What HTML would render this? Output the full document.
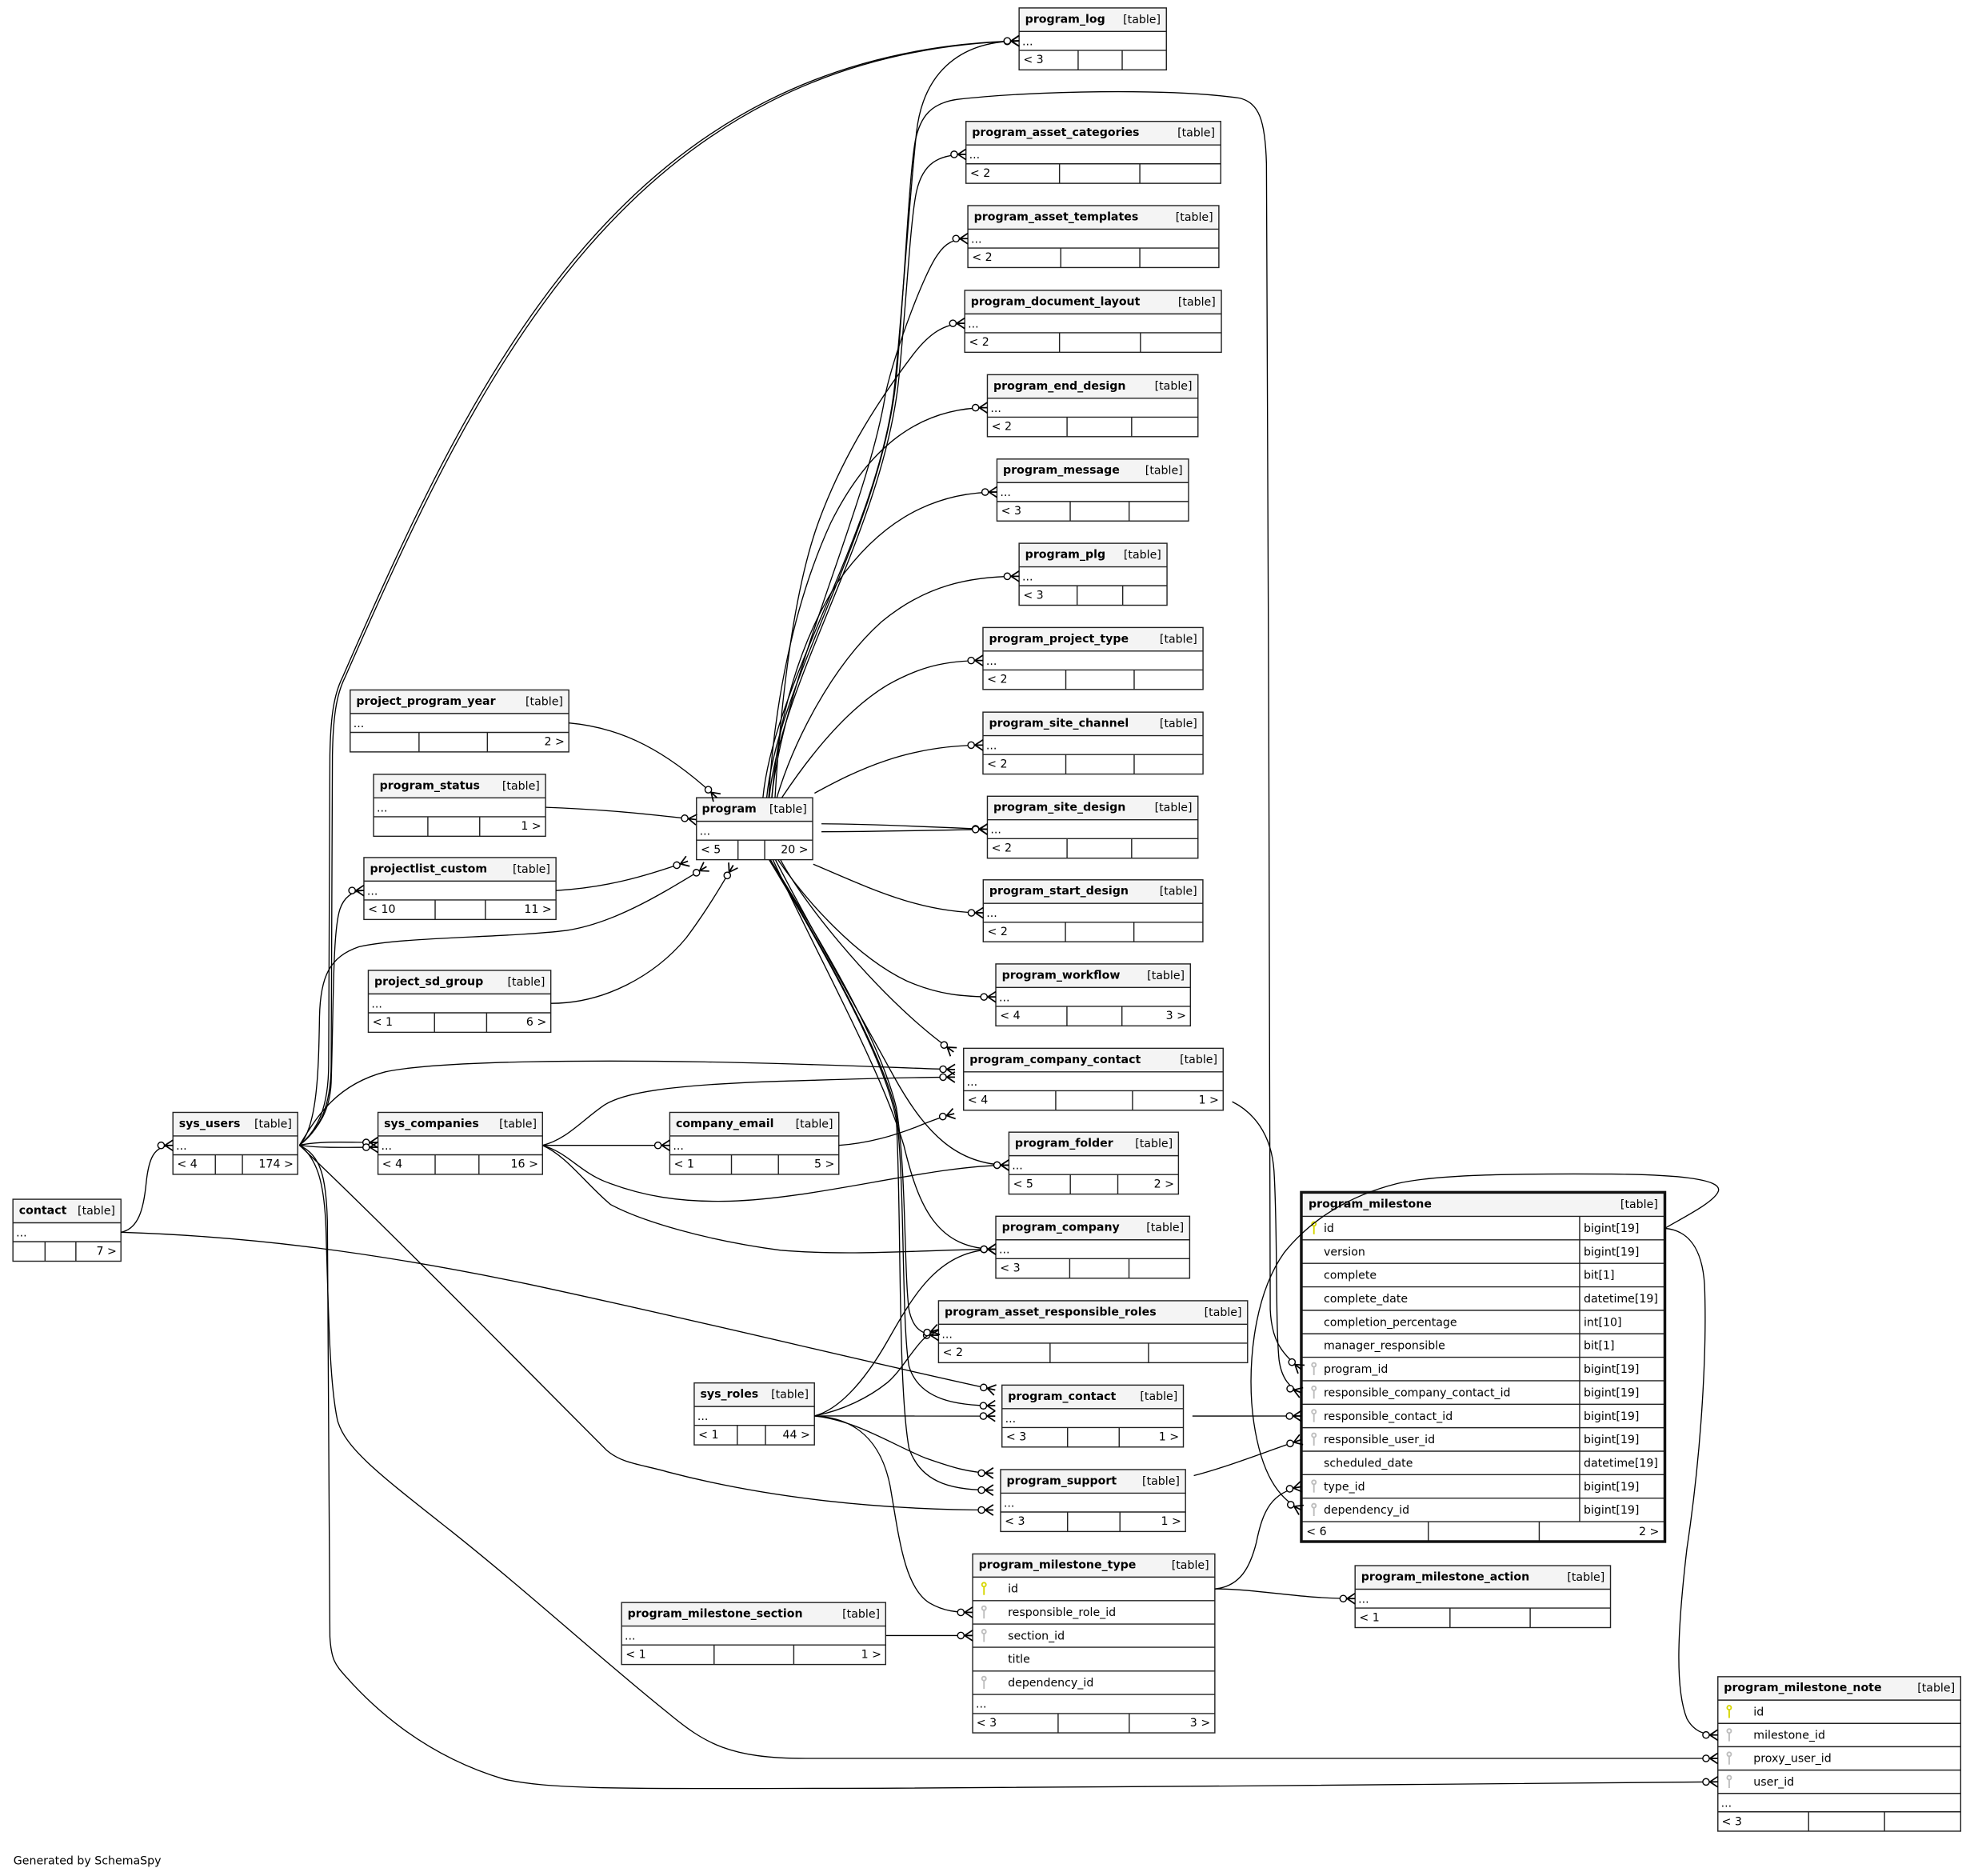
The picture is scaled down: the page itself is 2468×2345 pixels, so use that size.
<!DOCTYPE html>
<html><head><meta charset="utf-8"><title>ERD</title>
<style>html,body{margin:0;padding:0;background:#fff}svg{display:block}</style></head>
<body>
<svg xmlns="http://www.w3.org/2000/svg" width="2468" height="2345" viewBox="0 0 1568 1490" font-family="DejaVu Sans, Liberation Sans, sans-serif" font-size="9">
<style>
.s{stroke:#222;stroke-width:.9;fill:none}
.o{fill:none;stroke:#222;stroke-width:.9}
.n{font-weight:bold}
.r{text-anchor:end}
.e{fill:none;stroke:#000;stroke-width:.85;marker-end:url(#m)}
.pk{fill:none;stroke:#d6d600;stroke-width:1.2}
.fk{fill:none;stroke:#bdbdbd;stroke-width:1.2}
</style>
<defs>
<marker id="m" markerUnits="userSpaceOnUse" viewBox="-14 -6 16 12" markerWidth="16" markerHeight="12" refX="0" refY="0" orient="auto" overflow="visible">
<path d="M-6.4,0L0,-4.2M-6.4,0L0,0M-6.4,0L0,4.2" fill="none" stroke="#000" stroke-width="1.1"/>
<circle cx="-9.4" cy="0" r="2.6" fill="#fff" stroke="#000" stroke-width=".9"/>
</marker>
</defs>
<rect width="1568" height="1490" fill="#fff"/>

<!-- simple tables -->
<g transform="translate(809.5,6.3)"><rect width="117" height="49.2" fill="#fff"/><rect width="117" height="18.7" fill="#f4f4f4"/><path class="s" d="M0,18.7H117M0,33.7H117M46.9,33.7V49.2M81.9,33.7V49.2"/><rect class="o" width="117" height="49.2"/><text class="n" x="4.8" y="11.7">program_log</text><text class="r" x="112.4" y="12">[table]</text><text x="2.5" y="29.5">...</text><text x="3.3" y="44">&lt; 3</text></g>

<g transform="translate(767.3,96.4)"><rect width="202.4" height="49.2" fill="#fff"/><rect width="202.4" height="18.7" fill="#f4f4f4"/><path class="s" d="M0,18.7H202.4M0,33.7H202.4M74.3,33.7V49.2M138.1,33.7V49.2"/><rect class="o" width="202.4" height="49.2"/><text class="n" x="4.8" y="11.7">program_asset_categories</text><text class="r" x="197.8" y="12">[table]</text><text x="2.5" y="29.5">...</text><text x="3.3" y="44">&lt; 2</text></g>

<g transform="translate(768.8,163.3)"><rect width="199.4" height="49.2" fill="#fff"/><rect width="199.4" height="18.7" fill="#f4f4f4"/><path class="s" d="M0,18.7H199.4M0,33.7H199.4M73.8,33.7V49.2M136.6,33.7V49.2"/><rect class="o" width="199.4" height="49.2"/><text class="n" x="4.8" y="11.7">program_asset_templates</text><text class="r" x="194.8" y="12">[table]</text><text x="2.5" y="29.5">...</text><text x="3.3" y="44">&lt; 2</text></g>

<g transform="translate(766.3,230.6)"><rect width="203.9" height="49.2" fill="#fff"/><rect width="203.9" height="18.7" fill="#f4f4f4"/><path class="s" d="M0,18.7H203.9M0,33.7H203.9M75.3,33.7V49.2M139.6,33.7V49.2"/><rect class="o" width="203.9" height="49.2"/><text class="n" x="4.8" y="11.7">program_document_layout</text><text class="r" x="199.3" y="12">[table]</text><text x="2.5" y="29.5">...</text><text x="3.3" y="44">&lt; 2</text></g>

<g transform="translate(784.3,297.6)"><rect width="167.3" height="49.2" fill="#fff"/><rect width="167.3" height="18.7" fill="#f4f4f4"/><path class="s" d="M0,18.7H167.3M0,33.7H167.3M63.3,33.7V49.2M114.6,33.7V49.2"/><rect class="o" width="167.3" height="49.2"/><text class="n" x="4.8" y="11.7">program_end_design</text><text class="r" x="162.7" y="12">[table]</text><text x="2.5" y="29.5">...</text><text x="3.3" y="44">&lt; 2</text></g>

<g transform="translate(791.9,364.6)"><rect width="152.2" height="49.2" fill="#fff"/><rect width="152.2" height="18.7" fill="#f4f4f4"/><path class="s" d="M0,18.7H152.2M0,33.7H152.2M58.2,33.7V49.2M105,33.7V49.2"/><rect class="o" width="152.2" height="49.2"/><text class="n" x="4.8" y="11.7">program_message</text><text class="r" x="147.6" y="12">[table]</text><text x="2.5" y="29.5">...</text><text x="3.3" y="44">&lt; 3</text></g>

<g transform="translate(809.5,431.5)"><rect width="117.5" height="49.2" fill="#fff"/><rect width="117.5" height="18.7" fill="#f4f4f4"/><path class="s" d="M0,18.7H117.5M0,33.7H117.5M46.1,33.7V49.2M82.3,33.7V49.2"/><rect class="o" width="117.5" height="49.2"/><text class="n" x="4.8" y="11.7">program_plg</text><text class="r" x="112.9" y="12">[table]</text><text x="2.5" y="29.5">...</text><text x="3.3" y="44">&lt; 3</text></g>

<g transform="translate(780.8,498.4)"><rect width="174.8" height="49.2" fill="#fff"/><rect width="174.8" height="18.7" fill="#f4f4f4"/><path class="s" d="M0,18.7H174.8M0,33.7H174.8M65.8,33.7V49.2M120.1,33.7V49.2"/><rect class="o" width="174.8" height="49.2"/><text class="n" x="4.8" y="11.7">program_project_type</text><text class="r" x="170.2" y="12">[table]</text><text x="2.5" y="29.5">...</text><text x="3.3" y="44">&lt; 2</text></g>

<g transform="translate(780.8,565.6)"><rect width="174.8" height="49.2" fill="#fff"/><rect width="174.8" height="18.7" fill="#f4f4f4"/><path class="s" d="M0,18.7H174.8M0,33.7H174.8M65.8,33.7V49.2M120.1,33.7V49.2"/><rect class="o" width="174.8" height="49.2"/><text class="n" x="4.8" y="11.7">program_site_channel</text><text class="r" x="170.2" y="12">[table]</text><text x="2.5" y="29.5">...</text><text x="3.3" y="44">&lt; 2</text></g>

<g transform="translate(784.3,632.4)"><rect width="167.3" height="49.2" fill="#fff"/><rect width="167.3" height="18.7" fill="#f4f4f4"/><path class="s" d="M0,18.7H167.3M0,33.7H167.3M63.3,33.7V49.2M114.6,33.7V49.2"/><rect class="o" width="167.3" height="49.2"/><text class="n" x="4.8" y="11.7">program_site_design</text><text class="r" x="162.7" y="12">[table]</text><text x="2.5" y="29.5">...</text><text x="3.3" y="44">&lt; 2</text></g>

<g transform="translate(781,698.8)"><rect width="174.5" height="49.2" fill="#fff"/><rect width="174.5" height="18.7" fill="#f4f4f4"/><path class="s" d="M0,18.7H174.5M0,33.7H174.5M65.3,33.7V49.2M119.7,33.7V49.2"/><rect class="o" width="174.5" height="49.2"/><text class="n" x="4.8" y="11.7">program_start_design</text><text class="r" x="169.9" y="12">[table]</text><text x="2.5" y="29.5">...</text><text x="3.3" y="44">&lt; 2</text></g>

<g transform="translate(791,765.6)"><rect width="154.6" height="49.2" fill="#fff"/><rect width="154.6" height="18.7" fill="#f4f4f4"/><path class="s" d="M0,18.7H154.6M0,33.7H154.6M56.5,33.7V49.2M100.2,33.7V49.2"/><rect class="o" width="154.6" height="49.2"/><text class="n" x="4.8" y="11.7">program_workflow</text><text class="r" x="150" y="12">[table]</text><text x="2.5" y="29.5">...</text><text x="3.3" y="44">&lt; 4</text><text class="r" x="151.2" y="44">3 &gt;</text></g>

<g transform="translate(765.4,832.6)"><rect width="206.2" height="49.2" fill="#fff"/><rect width="206.2" height="18.7" fill="#f4f4f4"/><path class="s" d="M0,18.7H206.2M0,33.7H206.2M73.2,33.7V49.2M134.2,33.7V49.2"/><rect class="o" width="206.2" height="49.2"/><text class="n" x="4.8" y="11.7">program_company_contact</text><text class="r" x="201.6" y="12">[table]</text><text x="2.5" y="29.5">...</text><text x="3.3" y="44">&lt; 4</text><text class="r" x="202.8" y="44">1 &gt;</text></g>

<g transform="translate(801.4,899.2)"><rect width="134.7" height="49.2" fill="#fff"/><rect width="134.7" height="18.7" fill="#f4f4f4"/><path class="s" d="M0,18.7H134.7M0,33.7H134.7M48.8,33.7V49.2M86.5,33.7V49.2"/><rect class="o" width="134.7" height="49.2"/><text class="n" x="4.8" y="11.7">program_folder</text><text class="r" x="130.1" y="12">[table]</text><text x="2.5" y="29.5">...</text><text x="3.3" y="44">&lt; 5</text><text class="r" x="131.3" y="44">2 &gt;</text></g>

<g transform="translate(791,966)"><rect width="154" height="49.2" fill="#fff"/><rect width="154" height="18.7" fill="#f4f4f4"/><path class="s" d="M0,18.7H154M0,33.7H154M58.7,33.7V49.2M105.8,33.7V49.2"/><rect class="o" width="154" height="49.2"/><text class="n" x="4.8" y="11.7">program_company</text><text class="r" x="149.4" y="12">[table]</text><text x="2.5" y="29.5">...</text><text x="3.3" y="44">&lt; 3</text></g>

<g transform="translate(745.5,1033.1)"><rect width="245.5" height="49.2" fill="#fff"/><rect width="245.5" height="18.7" fill="#f4f4f4"/><path class="s" d="M0,18.7H245.5M0,33.7H245.5M88.6,33.7V49.2M166.8,33.7V49.2"/><rect class="o" width="245.5" height="49.2"/><text class="n" x="4.8" y="11.7">program_asset_responsible_roles</text><text class="r" x="240.9" y="12">[table]</text><text x="2.5" y="29.5">...</text><text x="3.3" y="44">&lt; 2</text></g>

<g transform="translate(795.9,1100.1)"><rect width="144.1" height="49.2" fill="#fff"/><rect width="144.1" height="18.7" fill="#f4f4f4"/><path class="s" d="M0,18.7H144.1M0,33.7H144.1M52.1,33.7V49.2M93.1,33.7V49.2"/><rect class="o" width="144.1" height="49.2"/><text class="n" x="4.8" y="11.7">program_contact</text><text class="r" x="139.5" y="12">[table]</text><text x="2.5" y="29.5">...</text><text x="3.3" y="44">&lt; 3</text><text class="r" x="140.7" y="44">1 &gt;</text></g>

<g transform="translate(794.8,1167.2)"><rect width="146.9" height="49.2" fill="#fff"/><rect width="146.9" height="18.7" fill="#f4f4f4"/><path class="s" d="M0,18.7H146.9M0,33.7H146.9M53.2,33.7V49.2M94.8,33.7V49.2"/><rect class="o" width="146.9" height="49.2"/><text class="n" x="4.8" y="11.7">program_support</text><text class="r" x="142.3" y="12">[table]</text><text x="2.5" y="29.5">...</text><text x="3.3" y="44">&lt; 3</text><text class="r" x="143.5" y="44">1 &gt;</text></g>

<g transform="translate(1076.4,1243.5)"><rect width="202.9" height="49.2" fill="#fff"/><rect width="202.9" height="18.7" fill="#f4f4f4"/><path class="s" d="M0,18.7H202.9M0,33.7H202.9M75.4,33.7V49.2M139.1,33.7V49.2"/><rect class="o" width="202.9" height="49.2"/><text class="n" x="4.8" y="11.7">program_milestone_action</text><text class="r" x="198.3" y="12">[table]</text><text x="2.5" y="29.5">...</text><text x="3.3" y="44">&lt; 1</text></g>

<g transform="translate(493.7,1272.8)"><rect width="209.8" height="49.2" fill="#fff"/><rect width="209.8" height="18.7" fill="#f4f4f4"/><path class="s" d="M0,18.7H209.8M0,33.7H209.8M73.5,33.7V49.2M136.8,33.7V49.2"/><rect class="o" width="209.8" height="49.2"/><text class="n" x="4.8" y="11.7">program_milestone_section</text><text class="r" x="205.2" y="12">[table]</text><text x="2.5" y="29.5">...</text><text x="3.3" y="44">&lt; 1</text><text class="r" x="206.4" y="44">1 &gt;</text></g>

<g transform="translate(551.4,1098.4)"><rect width="95.5" height="49.2" fill="#fff"/><rect width="95.5" height="18.7" fill="#f4f4f4"/><path class="s" d="M0,18.7H95.5M0,33.7H95.5M34.2,33.7V49.2M56.6,33.7V49.2"/><rect class="o" width="95.5" height="49.2"/><text class="n" x="4.8" y="11.7">sys_roles</text><text class="r" x="90.9" y="12">[table]</text><text x="2.5" y="29.5">...</text><text x="3.3" y="44">&lt; 1</text><text class="r" x="92.1" y="44">44 &gt;</text></g>

<g transform="translate(532,883.5)"><rect width="134.3" height="49.2" fill="#fff"/><rect width="134.3" height="18.7" fill="#f4f4f4"/><path class="s" d="M0,18.7H134.3M0,33.7H134.3M49,33.7V49.2M86.3,33.7V49.2"/><rect class="o" width="134.3" height="49.2"/><text class="n" x="4.8" y="11.7">company_email</text><text class="r" x="129.7" y="12">[table]</text><text x="2.5" y="29.5">...</text><text x="3.3" y="44">&lt; 1</text><text class="r" x="130.9" y="44">5 &gt;</text></g>

<g transform="translate(300.2,883.5)"><rect width="130.7" height="49.2" fill="#fff"/><rect width="130.7" height="18.7" fill="#f4f4f4"/><path class="s" d="M0,18.7H130.7M0,33.7H130.7M45.4,33.7V49.2M80.2,33.7V49.2"/><rect class="o" width="130.7" height="49.2"/><text class="n" x="4.8" y="11.7">sys_companies</text><text class="r" x="126.1" y="12">[table]</text><text x="2.5" y="29.5">...</text><text x="3.3" y="44">&lt; 4</text><text class="r" x="127.3" y="44">16 &gt;</text></g>

<g transform="translate(137.3,883.5)"><rect width="99.1" height="49.2" fill="#fff"/><rect width="99.1" height="18.7" fill="#f4f4f4"/><path class="s" d="M0,18.7H99.1M0,33.7H99.1M33.7,33.7V49.2M55.2,33.7V49.2"/><rect class="o" width="99.1" height="49.2"/><text class="n" x="4.8" y="11.7">sys_users</text><text class="r" x="94.5" y="12">[table]</text><text x="2.5" y="29.5">...</text><text x="3.3" y="44">&lt; 4</text><text class="r" x="95.7" y="44">174 &gt;</text></g>

<g transform="translate(10.2,952.5)"><rect width="85.8" height="49.2" fill="#fff"/><rect width="85.8" height="18.7" fill="#f4f4f4"/><path class="s" d="M0,18.7H85.8M0,33.7H85.8M25.5,33.7V49.2M50,33.7V49.2"/><rect class="o" width="85.8" height="49.2"/><text class="n" x="4.8" y="11.7">contact</text><text class="r" x="81.2" y="12">[table]</text><text x="2.5" y="29.5">...</text><text class="r" x="82.4" y="44">7 &gt;</text></g>

<g transform="translate(278.1,548)"><rect width="173.7" height="49.2" fill="#fff"/><rect width="173.7" height="18.7" fill="#f4f4f4"/><path class="s" d="M0,18.7H173.7M0,33.7H173.7M54.7,33.7V49.2M109,33.7V49.2"/><rect class="o" width="173.7" height="49.2"/><text class="n" x="4.8" y="11.7">project_program_year</text><text class="r" x="169.1" y="12">[table]</text><text x="2.5" y="29.5">...</text><text class="r" x="170.3" y="44">2 &gt;</text></g>

<g transform="translate(296.7,615)"><rect width="136.6" height="49.2" fill="#fff"/><rect width="136.6" height="18.7" fill="#f4f4f4"/><path class="s" d="M0,18.7H136.6M0,33.7H136.6M43.1,33.7V49.2M84.3,33.7V49.2"/><rect class="o" width="136.6" height="49.2"/><text class="n" x="4.8" y="11.7">program_status</text><text class="r" x="132" y="12">[table]</text><text x="2.5" y="29.5">...</text><text class="r" x="133.2" y="44">1 &gt;</text></g>

<g transform="translate(289,681.1)"><rect width="152.6" height="49.2" fill="#fff"/><rect width="152.6" height="18.7" fill="#f4f4f4"/><path class="s" d="M0,18.7H152.6M0,33.7H152.6M56.6,33.7V49.2M96.5,33.7V49.2"/><rect class="o" width="152.6" height="49.2"/><text class="n" x="4.8" y="11.7">projectlist_custom</text><text class="r" x="148" y="12">[table]</text><text x="2.5" y="29.5">...</text><text x="3.3" y="44">&lt; 10</text><text class="r" x="149.2" y="44">11 &gt;</text></g>

<g transform="translate(292.5,770.7)"><rect width="145" height="49.2" fill="#fff"/><rect width="145" height="18.7" fill="#f4f4f4"/><path class="s" d="M0,18.7H145M0,33.7H145M52.6,33.7V49.2M94,33.7V49.2"/><rect class="o" width="145" height="49.2"/><text class="n" x="4.8" y="11.7">project_sd_group</text><text class="r" x="140.4" y="12">[table]</text><text x="2.5" y="29.5">...</text><text x="3.3" y="44">&lt; 1</text><text class="r" x="141.6" y="44">6 &gt;</text></g>

<g transform="translate(553.2,633.6)"><rect width="92.3" height="49.2" fill="#fff"/><rect width="92.3" height="18.7" fill="#f4f4f4"/><path class="s" d="M0,18.7H92.3M0,33.7H92.3M33,33.7V49.2M54.2,33.7V49.2"/><rect class="o" width="92.3" height="49.2"/><text class="n" x="4.3" y="11.7">program</text><text class="r" x="87.7" y="12">[table]</text><text x="2.5" y="29.5">...</text><text x="3.3" y="44">&lt; 5</text><text class="r" x="88.9" y="44">20 &gt;</text></g>

<!-- program_milestone_type -->
<g transform="translate(772.6,1234.2)"><rect width="192.4" height="142.1" fill="#fff"/><rect width="192.4" height="18.4" fill="#f4f4f4"/>
<path class="s" d="M0,18.4H192.4M0,37.1H192.4M0,55.7H192.4M0,74.1H192.4M0,93H192.4M0,111.6H192.4M0,126.8H192.4M67.9,126.8V142.1M124.4,126.8V142.1"/>
<rect class="o" width="192.4" height="142.1"/>
<text class="n" x="4.8" y="11.5">program_milestone_type</text><text class="r" x="187.8" y="11.8">[table]</text>
<circle class="pk" cx="9" cy="24.4" r="1.6"/><path class="pk" d="M9,26V32.6"/>
<circle class="fk" cx="9" cy="43.1" r="1.6"/><path class="fk" d="M9,44.7V51.3"/>
<circle class="fk" cx="9" cy="61.7" r="1.6"/><path class="fk" d="M9,63.3V69.9"/>
<circle class="fk" cx="9" cy="99" r="1.6"/><path class="fk" d="M9,100.6V107.2"/>
<text x="28" y="30.7">id</text><text x="28" y="49.4">responsible_role_id</text><text x="28" y="68">section_id</text><text x="28" y="86.4">title</text><text x="28" y="105.3">dependency_id</text>
<text x="2.5" y="122.2">...</text><text x="3" y="137.1">&lt; 3</text><text class="r" x="188.8" y="137.1">3 &gt;</text></g>

<!-- program_milestone_note -->
<g transform="translate(1364.6,1331.7)"><rect width="192.9" height="122.7" fill="#fff"/><rect width="192.9" height="18.6" fill="#f4f4f4"/>
<path class="s" d="M0,18.6H192.9M0,37.1H192.9M0,55.6H192.9M0,74.2H192.9M0,92.7H192.9M0,107.3H192.9M72.1,107.3V122.7M132.4,107.3V122.7"/>
<rect class="o" width="192.9" height="122.7"/>
<text class="n" x="4.8" y="11.5">program_milestone_note</text><text class="r" x="188.3" y="11.8">[table]</text>
<circle class="pk" cx="9" cy="24.6" r="1.6"/><path class="pk" d="M9,26.2V32.8"/>
<circle class="fk" cx="9" cy="43.1" r="1.6"/><path class="fk" d="M9,44.7V51.3"/>
<circle class="fk" cx="9" cy="61.6" r="1.6"/><path class="fk" d="M9,63.2V69.8"/>
<circle class="fk" cx="9" cy="80.2" r="1.6"/><path class="fk" d="M9,81.8V88.4"/>
<text x="28.3" y="30.9">id</text><text x="28.3" y="49.4">milestone_id</text><text x="28.3" y="67.9">proxy_user_id</text><text x="28.3" y="86.5">user_id</text>
<text x="2.5" y="103.3">...</text><text x="3" y="118">&lt; 3</text></g>

<!-- program_milestone -->
<g transform="translate(1033.7,947)"><rect width="288.8" height="277.4" fill="#fff"/><rect width="288.8" height="19.1" fill="#f4f4f4"/>
<path class="s" stroke-width="1" d="M0,19.1H288.8M0,37.75H288.8M0,56.4H288.8M0,75.05H288.8M0,93.7H288.8M0,112.35H288.8M0,131H288.8M0,149.65H288.8M0,168.3H288.8M0,186.95H288.8M0,205.6H288.8M0,224.25H288.8M0,242.9H288.8M0,261.55H288.8M221.1,19.1V261.55M100.9,261.55V277.4M189,261.55V277.4"/>
<rect width="288.8" height="277.4" fill="none" stroke="#111" stroke-width="2.2"/>
<text class="n" x="5.7" y="12">program_milestone</text><text class="r" x="283.3" y="12.3">[table]</text>
<circle class="pk" cx="10" cy="25.1" r="1.6"/><path class="pk" d="M10,26.7V33.3"/>
<circle class="fk" cx="10" cy="137" r="1.6"/><path class="fk" d="M10,138.6V145.2"/>
<circle class="fk" cx="10" cy="155.65" r="1.6"/><path class="fk" d="M10,157.25V163.85"/>
<circle class="fk" cx="10" cy="174.3" r="1.6"/><path class="fk" d="M10,175.9V182.5"/>
<circle class="fk" cx="10" cy="192.95" r="1.6"/><path class="fk" d="M10,194.55V201.15"/>
<circle class="fk" cx="10" cy="230.25" r="1.6"/><path class="fk" d="M10,231.85V238.45"/>
<circle class="fk" cx="10" cy="248.9" r="1.6"/><path class="fk" d="M10,250.5V257.1"/>
<text x="17.8" y="31.5">id</text><text x="224.3" y="31.5">bigint[19]</text>
<text x="17.8" y="50.15">version</text><text x="224.3" y="50.15">bigint[19]</text>
<text x="17.8" y="68.8">complete</text><text x="224.3" y="68.8">bit[1]</text>
<text x="17.8" y="87.45">complete_date</text><text x="224.3" y="87.45">datetime[19]</text>
<text x="17.8" y="106.1">completion_percentage</text><text x="224.3" y="106.1">int[10]</text>
<text x="17.8" y="124.75">manager_responsible</text><text x="224.3" y="124.75">bit[1]</text>
<text x="17.8" y="143.4">program_id</text><text x="224.3" y="143.4">bigint[19]</text>
<text x="17.8" y="162.05">responsible_company_contact_id</text><text x="224.3" y="162.05">bigint[19]</text>
<text x="17.8" y="180.7">responsible_contact_id</text><text x="224.3" y="180.7">bigint[19]</text>
<text x="17.8" y="199.35">responsible_user_id</text><text x="224.3" y="199.35">bigint[19]</text>
<text x="17.8" y="218">scheduled_date</text><text x="224.3" y="218">datetime[19]</text>
<text x="17.8" y="236.65">type_id</text><text x="224.3" y="236.65">bigint[19]</text>
<text x="17.8" y="255.3">dependency_id</text><text x="224.3" y="255.3">bigint[19]</text>
<text x="4" y="272.2">&lt; 6</text><text class="r" x="284.3" y="272.2">2 &gt;</text></g>

<!-- edges -->
<g>
<path class="e" d="M237.8,909.6 C252,898 261,880 261,845 L262,600 C262.5,570 265,552 272,538 C380,290 500,40 809.5,32.5"/>
<path class="e" d="M237.8,909.6 C253,898 263,880 263,845 L264,600 C264.5,570 267,552 274,538 C382,292 502,42 809.5,32.5"/>
<path class="e" d="M606,633.6 C615,540 700,420 711,303 C718,230 723,150 728,105 C733,60 760,32.5 809.5,32.5"/>
<path class="e" d="M609,633.6 C618,540 700,420 712,300 C719,220 722,140 727,112 C731,92 740,82 760,79 C820,72 930,70 985,78 C1000,82 1005,95 1006,130 C1008,300 1008,900 1009,1040 C1010,1062 1016,1074 1033.7,1087.6"/>
<path class="e" d="M611,633.6 C620,540 702,420 714,300 C720,240 723,175 728,152 C733,130 745,122.6 767.3,122.6"/>
<path class="e" d="M613,633.6 C622,540 690,400 703.5,312 C712,275 735,215 745,202 C751,193 758,189.5 768.8,189.5"/>
<path class="e" d="M615.6,633.6 C620,560 630,470 650,415 C670,360 700,315 725,282 C738,265 750,256.8 766.3,256.8"/>
<path class="e" d="M610.6,633.6 C615,560 630,480 660,415 C690,355 730,323.8 784.3,323.8"/>
<path class="e" d="M613.1,633.6 C618,570 635,510 665,463 C695,420 735,390.8 791.9,390.8"/>
<path class="e" d="M617,633.6 C630,590 660,530 700,494 C735,465 770,457.7 809.5,457.7"/>
<path class="e" d="M621,633.6 C640,605 670,565 705,544 C730,530 750,524.6 780.8,524.6"/>
<path class="e" d="M647,630 C680,612 720,591.8 780.8,591.8"/>
<path class="e" d="M652.5,654.3 C700,654.5 740,657 784.3,658.6"/>
<path class="e" d="M652.5,660.6 C700,660.5 740,659.5 784.3,658.6"/>
<path class="e" d="M646,686.4 C690,705 730,725 781,725"/>
<path class="e" d="M618,683 C640,715 680,760 720,779 C745,790 765,791.8 791,791.8"/>
<path class="e" d="M620,683 C640,720 690,780 735,818 C742,824 750,830 757.5,835.5"/>
<path class="e" d="M616,683 C640,730 680,800 710,855 C735,900 760,925.4 801.4,925.4"/>
<path class="e" d="M614,683 C650,760 700,850 718,910 C730,960 745,992.2 791,992.2"/>
<path class="e" d="M612,683 C660,760 700,830 712,880 C720,930 718,1010 722,1040 C725,1055 732,1060.5 745.5,1060.5"/>
<path class="e" d="M612,683 C670,780 705,850 712,885 C719,940 716,1050 722,1085 C730,1112 760,1116.5 790.5,1116.5"/>
<path class="e" d="M611,683 C670,780 705,850 712,890 C716,960 713,1100 722,1150 C732,1180 760,1183.5 789,1183.5"/>
<path class="e" d="M451.8,574.2 C495,578 530,597 569.5,633.6"/>
<path class="e" d="M433.3,641.2 C480,643 510,646 553.2,651"/>
<path class="e" d="M441.6,707.3 C480,705 510,697 546.4,684"/>
<path class="e" d="M237.8,909.6 C252,895 253,850 253.7,810 C254,775 262,760 285,752 C320,744 400,745 450,739 C490,733 530,707 561.2,688.3"/>
<path class="e" d="M437.5,796.9 C480,797 520,775 545,745 C560,725 572,705 582.4,687.2"/>
<path class="e" d="M237.8,909.6 C255,895 262,880 263,860 C265,800 264,740 270,722 C273,713 280,707.3 289,707.3"/>
<path class="e" d="M237.8,909.6 C250,890 265,862 306,851.3 C350,842 480,842 560,843.4 C650,845 710,848 758.5,849.5"/>
<path class="e" d="M430.9,909.7 C450,905 462,890 480,877.7 C495,868 530,862 612,859 C680,857 720,855.5 758.5,855.5"/>
<path class="e" d="M237.8,909.6 C255,906 275,907.4 300.2,907.4"/>
<path class="e" d="M237.8,909.6 C255,912 275,911.2 300.2,911.2"/>
<path class="e" d="M96,978.7 C110,976 114,960 116,940 C118,920 122,909.7 137.3,909.7"/>
<path class="e" d="M96,978.7 C200,982 300,995 420,1020 C560,1050 680,1080 790.5,1104"/>
<path class="e" d="M237.8,909.6 C300,968 420,1090 482,1152 C495,1163 510,1163 530,1169 C610,1190 700,1199.3 789,1199.3"/>
<path class="e" d="M237.8,909.6 C252,920 258,940 259,980 C261,1050 262,1100 268,1128 C274,1150 300,1170 357,1215 C420,1265 480,1320 530,1360 C560,1385 580,1396.6 640,1396.6 L1364.6,1396.6"/>
<path class="e" d="M237.8,909.6 C255,918 259,935 260,970 L262,1300 C263,1318 266,1322 275,1332 C300,1360 340,1395 400,1413 C440,1422 500,1420.5 700,1420.3 C900,1420 1200,1416 1364.6,1415.2"/>
<path class="e" d="M430.9,909.7 L532,909.7"/>
<path class="e" d="M430.9,909.7 C450,915 460,930 480,938.2 C510,950 540,955 580,954 C650,952 740,925.4 801.4,925.4"/>
<path class="e" d="M430.9,909.7 C450,918 465,940 485,956.7 C510,970 560,985 620,993 C680,998 740,992.2 791,992.2"/>
<path class="e" d="M666.3,909.7 C690,908 710,902 728,895 C740,890 748,887 758,884.5"/>
<path class="e" d="M646.9,1124.6 C670,1120 690,1110 705,1098 C720,1085 730,1060 745.5,1056"/>
<path class="e" d="M646.9,1124.6 C665,1120 685,1100 705,1065 C725,1030 745,992.2 791,992.2"/>
<path class="e" d="M646.9,1124.6 L790.5,1124.7"/>
<path class="e" d="M646.9,1124.6 C680,1128 710,1148 735,1158 C755,1165 770,1170 789,1170"/>
<path class="e" d="M646.9,1124.6 C680,1126 700,1145 707,1180 C714,1220 718,1260 738,1273 C750,1280 760,1280.6 772.6,1280.6"/>
<path class="e" d="M703.5,1299 L772.6,1299"/>
<path class="e" d="M965,1262 C1000,1262 1030,1269.7 1076.4,1269.7"/>
<path class="e" d="M965,1262 C985,1260 993,1245 998,1225 C1003,1200 1010,1185 1033.7,1180.8"/>
<path class="e" d="M947.2,1124.7 L1033.7,1124.65"/>
<path class="e" d="M948.3,1172 C975,1165 1000,1155 1033.7,1143.4"/>
<path class="e" d="M978.8,875 C995,883 1010,900 1012,930 C1015,980 1013,1050 1016,1080 C1018,1095 1025,1103 1033.7,1106.1"/>
<path class="e" d="M1322.5,975.6 C1335,968 1362,955 1365,946 C1368,936 1330,933 1280,932.5 C1200,932 1140,933 1110,940 C1070,950 1040,970 1020,995 C995,1030 990,1090 996,1130 C1002,1170 1015,1190 1033.7,1199.3"/>
<path class="e" d="M1322.5,975.6 C1340,977 1352,990 1354,1020 C1356,1070 1352,1150 1340,1230 C1333,1290 1330,1340 1340,1365 C1345,1374 1352,1378 1364.6,1378"/>
</g>

<text x="10.6" y="1480.8">Generated by SchemaSpy</text>
</svg>
</body></html>
